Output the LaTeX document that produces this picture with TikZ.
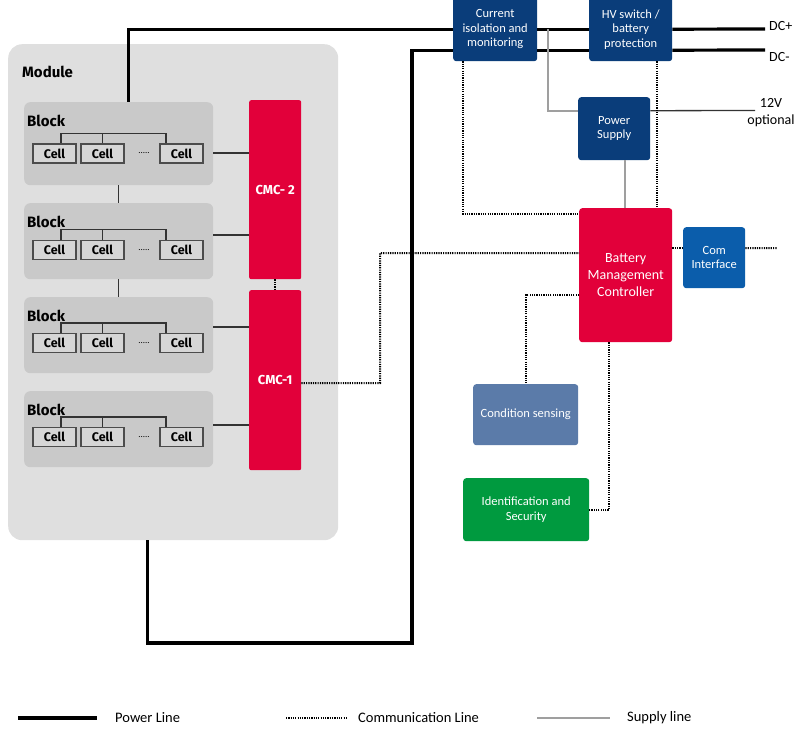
\documentclass[tikz,border=0pt]{standalone}
\usepackage{fontspec}
\setmainfont{Carlito}
\newfontfamily\boldsans{Fira Sans}
\usetikzlibrary{positioning}

\definecolor{navy}{HTML}{0A3D7A}
\definecolor{comblue}{HTML}{0B5DAB}
\definecolor{bmsred}{HTML}{E2003A}
\definecolor{sensblue}{HTML}{5B7BA9}
\definecolor{idgreen}{HTML}{009A3F}
\definecolor{modgray}{HTML}{DFDFDF}
\definecolor{blkgray}{HTML}{C9C9C9}
\definecolor{cellgray}{HTML}{D6D6D6}

\begin{document}
\begin{tikzpicture}[x=1pt, y=-1pt,
    module/.style={rectangle, rounded corners=14pt, fill=modgray, anchor=north west, minimum width=330pt, minimum height=496pt},
    block/.style={rectangle, rounded corners=6pt, fill=blkgray, anchor=north west, minimum width=189pt},
    head/.style={anchor=west, inner sep=0pt, font=\boldsans\bfseries\fontsize{15}{17}\selectfont},
    cell/.style={rectangle, draw=black!70, line width=1.3pt, fill=cellgray, minimum width=43pt, minimum height=19pt, inner sep=0pt, font=\boldsans\bfseries\fontsize{12.5}{14}\selectfont},
    cmc/.style={rectangle, rounded corners=2pt, fill=bmsred, text=white, anchor=north west, minimum width=52pt, font=\boldsans\bfseries\fontsize{13}{15}\selectfont},
    box/.style={rectangle, rounded corners=3pt, text=white, align=center, anchor=north west, inner sep=1pt, font=\fontsize{12.5}{14.5}\selectfont},
    note/.style={font=\fontsize{14}{17}\selectfont, align=center, inner sep=0pt},
    legend/.style={font=\fontsize{14.5}{17}\selectfont, inner sep=0pt},
    power/.style={line width=3.2pt},
    comm/.style={line width=2pt, dash pattern=on 1.2pt off 1.1pt},
    supply/.style={line width=2pt, draw=gray!75},
    wire/.style={line width=1.3pt, draw=black!80}
]
\useasboundingbox (0,0) rectangle (800,735);

% Module
\node[module] (mod) at (8,44) {};
\node[head] (modtxt) at (22,72) {Module};

% Blocks with cells
\foreach \t/\h/\c/\n in {102/83/153.5/1, 203/76/250/2, 297/76/343/3, 391/76/437/4} {
    \node[block, minimum height=\h*1pt] (blk\n) at (24,\t) {};
    \node[head] (blk\n-txt) at (27,\t+19) {Block};
    \node[cell] (c\n-1) at (54.5,\c) {Cell};
    \node[cell] (c\n-2) at (102.5,\c) {Cell};
    \node[cell] (c\n-3) at (181.5,\c) {Cell};
    \node[font=\small] (d\n) at (144,\c) {.....};
    \draw[wire] ([xshift=6.5pt]c\n-1.north) -- ++(0,-10) -| ([xshift=-15.5pt]c\n-3.north);
    \draw[wire] (c\n-2.north) -- ++(0,-10);
}
\draw[wire] (blk1.south) -- (blk2.north);
\draw[wire] (blk2.south) -- (blk3.north);

% CMCs
\node[cmc, minimum height=179pt] (cmc2) at (249,100) {CMC- 2};
\node[cmc, minimum height=180pt] (cmc1) at (249,290) {CMC-1};
\foreach \n/\m/\y in {1/2/153, 2/2/235, 3/1/327, 4/1/425} {
    \draw[wire] (blk\n.east |- 0,\y) -- (cmc\m.west |- 0,\y);
}

% Boxes on the right
\node[box, fill=navy, minimum width=84pt, minimum height=64pt] (cur) at (453,-3) {Current\\isolation and\\monitoring};
\node[box, fill=navy, minimum width=83pt, minimum height=64pt] (hv) at (589,-3) {HV switch /\\battery\\protection};
\node[box, fill=navy, minimum width=72pt, minimum height=63pt] (ps) at (578,97) {Power\\Supply};
\node[box, fill=bmsred, minimum width=93pt, minimum height=134pt, font=\fontsize{14}{17}\selectfont] (bmc) at (579,208) {Battery\\Management\\Controller};
\node[box, fill=comblue, minimum width=62pt, minimum height=61pt] (com) at (683,227) {Com\\Interface};
\node[box, fill=sensblue, minimum width=105pt, minimum height=61pt] (cond) at (473,384) {Condition sensing};
\node[box, fill=idgreen, minimum width=126pt, minimum height=63pt] (ident) at (463,478) {Identification and\\Security};

% Power lines
\coordinate (dcp) at (765,29);
\coordinate (dcm) at (765,50);
\coordinate (turn) at (412,643);
\draw[power] ([xshift=10pt]blk1.north) |- (cur.west);
\draw[power] (cur.east) -- (hv.west);
\draw[power] (hv.east) -- (dcp);
\draw[power] ([xshift=-26pt]mod.south) |- (turn) |- ([yshift=-21pt]cur.west);
\draw[power] ([yshift=-21pt]cur.east) -- ([yshift=-21pt]hv.west);
\draw[power] ([yshift=-21pt]hv.east) -- (dcm);
\node[note, right=4pt of dcp, yshift=3pt] (dcptxt) {DC+};
\node[note, right=4pt of dcm, yshift=-7pt] (dcmtxt) {DC-};

% Supply lines
\coordinate (v12) at (755,110.5);
\draw[supply] ([xshift=11pt]cur.east) |- ([yshift=18pt]ps.west);
\draw[supply] ([xshift=11pt]ps.south) -- ([xshift=11pt]ps.south |- bmc.north);
\draw[wire] ([yshift=18pt]ps.east) -- (v12);
\node[note] (v12txt) at (771,113) {12V\\optional};

% Communication lines
\coordinate (cbend) at (380,383);
\coordinate (comout) at (777,248);
\draw[comm] (cmc2.south) -- (cmc1.north);
\draw[comm] ([yshift=-3pt]cmc1.east) -- (cbend) |- ([yshift=22pt]bmc.west);
\draw[comm] ([xshift=-32pt]cur.south) |- ([yshift=61pt]bmc.west);
\draw[comm] ([xshift=26.5pt]hv.south) -- ([xshift=26.5pt]hv.south |- bmc.north);
\draw[comm] ([yshift=27pt]bmc.east) -- ([yshift=9.5pt]com.west);
\draw[comm] ([yshift=9.5pt]com.east) -- (comout);
\draw[comm] ([yshift=-20pt]bmc.west) -| (cond.north);
\draw[comm] ([xshift=-16.5pt]bmc.south) |- (ident.east);

% Legend
\coordinate (lg1a) at (18,718);
\coordinate (lg1b) at (97,718);
\coordinate (lg2a) at (286,718);
\coordinate (lg2b) at (347,718);
\coordinate (lg3a) at (537,718);
\coordinate (lg3b) at (610,718);
\draw[power, line width=3.5pt] (lg1a) -- (lg1b);
\draw[comm, line width=1.5pt] (lg2a) -- (lg2b);
\draw[supply, line width=2.8pt] (lg3a) -- (lg3b);
\node[legend, right=18pt of lg1b] (lg1txt) {Power Line};
\node[legend, right=11pt of lg2b] (lg2txt) {Communication Line};
\node[legend, right=17pt of lg3b] (lg3txt) {Supply line};

\end{tikzpicture}
\end{document}
